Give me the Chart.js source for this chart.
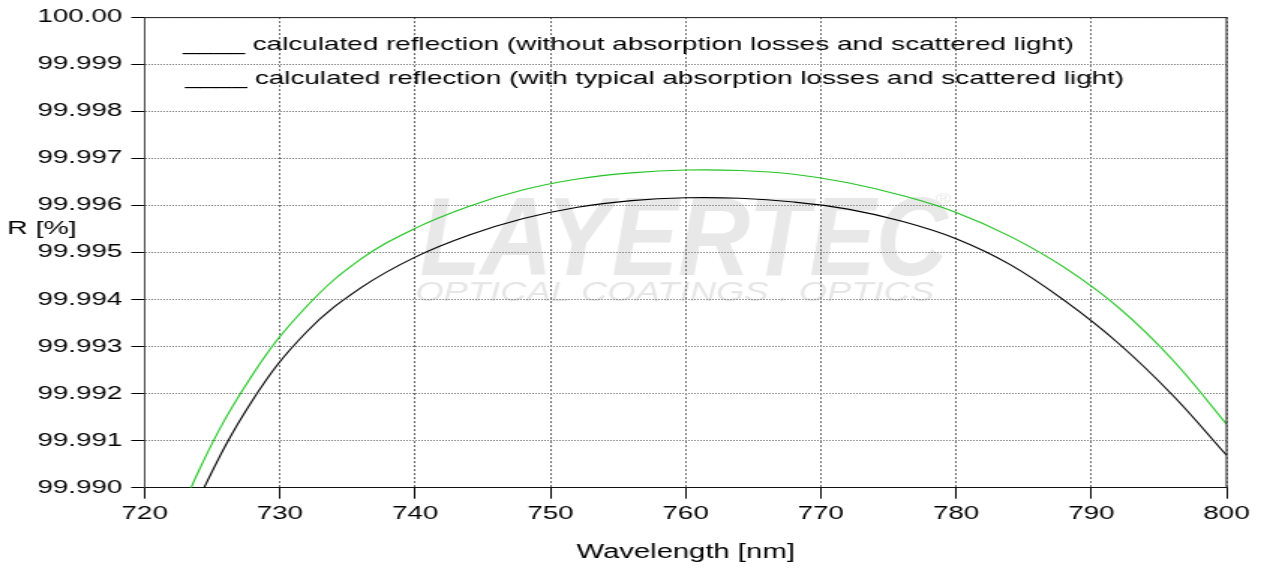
<!DOCTYPE html>
<html>
<head>
<meta charset="utf-8">
<script src="https://cdn.jsdelivr.net/npm/chart.js@4/dist/chart.umd.min.js"></script>
<style>
  html, body { margin: 0; padding: 0; background: #fff; overflow: hidden; }
  /* the reference picture is stretched sideways, so the whole canvas is too */
  #wrap { width: 843px; height: 570px; transform: scaleX(1.49941); transform-origin: 0 0; }
</style>
</head>
<body>
<div id="wrap"><canvas id="reflChart" width="843" height="570"></canvas></div>
<script>
// Wavelength grid (nm) and reflectance (R in %)
const wavelengths = [720, 724, 728, 732, 736, 740, 744, 748, 752, 756, 760,
                     764, 768, 772, 776, 780, 784, 788, 792, 796, 800];
// without absorption losses and scattered light (green)
const reflNoLoss = [99.98756, 99.99036, 99.99241, 99.99386, 99.99486, 99.99551, 99.99598, 99.99633, 99.99656, 99.99669, 99.99675,
                    99.99674, 99.99666, 99.99648, 99.99621, 99.99585, 99.99534, 99.99468, 99.99383, 99.99272, 99.99135];
// with typical absorption losses and scattered light (black)
const reflWithLoss = [99.98717, 99.98977, 99.99187, 99.99332, 99.99425, 99.99490, 99.99537, 99.99572, 99.99596, 99.99610, 99.99616,
                      99.99615, 99.99607, 99.99592, 99.99566, 99.99529, 99.99474, 99.99398, 99.99307, 99.99197, 99.99069];
const seriesLabels = [
  'calculated reflection (without absorption losses and scattered light)',
  'calculated reflection (with typical absorption losses and scattered light)'
];
const xTicks = [720, 730, 740, 750, 760, 770, 780, 790, 800];
const yMin = 99.990, yMax = 100.000, yStep = 0.001;

const FONT = "'Liberation Sans', Arial, sans-serif";

function toPoints(values) {
  return wavelengths.map((w, i) => ({ x: w, y: values[i] }));
}

// faint company watermark behind the grid
const watermarkPlugin = {
  id: 'watermark',
  beforeDraw(chart) {
    const ctx = chart.ctx;
    ctx.save();
    ctx.fillStyle = '#e8e8e8';
    ctx.textBaseline = 'alphabetic';
    ctx.textAlign = 'left';
    ctx.font = 'italic bold 112px ' + FONT;
    ctx.fillText('LAYERTEC', 280, 275, 352);
    ctx.font = '14px ' + FONT;
    ctx.fillText('\u00AE', 624, 204);
    ctx.font = 'italic 27px ' + FONT;
    ctx.fillStyle = '#e6e6e6';
    ctx.fillText('OPTICAL COATINGS . OPTICS', 277, 301, 346);
    ctx.restore();
  }
};

// frame, horizontal y title and the underscore legend
const framePlugin = {
  id: 'frame',
  afterDraw(chart) {
    const { ctx, chartArea: a } = chart;
    ctx.save();
    ctx.strokeStyle = '#222';
    ctx.lineWidth = 1;
    ctx.beginPath();
    ctx.moveTo(a.left, a.top + 0.5);
    ctx.lineTo(a.right, a.top + 0.5);
    ctx.moveTo(a.right, a.top);
    ctx.lineTo(a.right, a.bottom);
    ctx.stroke();

    ctx.fillStyle = '#000';
    ctx.textAlign = 'left';
    ctx.textBaseline = 'alphabetic';
    ctx.font = '19px ' + FONT;
    ctx.fillText('R [%]', 4.7, 234);

    ctx.font = '18.6px ' + FONT;
    ctx.fillText('____ ' + seriesLabels[0], 122, 50);
    ctx.fillText('____ ' + seriesLabels[1], 123.4, 84);
    ctx.restore();
  }
};

const ctx = document.getElementById('reflChart').getContext('2d');
new Chart(ctx, {
  type: 'line',
  data: {
    datasets: [
      {
        label: seriesLabels[0],
        data: toPoints(reflNoLoss),
        borderColor: '#22c422',
        borderWidth: 1.1,
        pointRadius: 0,
        tension: 0.4,
        fill: false
      },
      {
        label: seriesLabels[1],
        data: toPoints(reflWithLoss),
        borderColor: '#000',
        borderWidth: 1.1,
        pointRadius: 0,
        tension: 0.4,
        fill: false
      }
    ]
  },
  options: {
    responsive: false,
    animation: false,
    devicePixelRatio: 1,
    layout: { padding: { left: 0, right: 25, top: 15, bottom: 0 } },
    plugins: {
      legend: { display: false },
      tooltip: { enabled: false }
    },
    scales: {
      x: {
        type: 'linear',
        min: 720,
        max: 800,
        afterBuildTicks(scale) { scale.ticks = xTicks.map(v => ({ value: v })); },
        afterFit(scale) { scale.height = 82.3; },
        grid: { color: '#666', lineWidth: 1, tickLength: 11, tickColor: '#000', tickWidth: 1 },
        border: { display: true, color: '#111', width: 1, dash: [2, 2] },
        ticks: { color: '#000', padding: 4, maxRotation: 0, font: { family: FONT, size: 18.5 } },
        title: {
          display: true,
          text: 'Wavelength [nm]',
          color: '#000',
          font: { family: FONT, size: 19.5 },
          padding: { top: 0, bottom: 6 }
        }
      },
      y: {
        type: 'linear',
        min: yMin,
        max: yMax,
        afterBuildTicks(scale) {
          const ticks = [];
          for (let i = 0; i <= 10; i++) ticks.push({ value: yMin + i * yStep });
          scale.ticks = ticks;
        },
        afterFit(scale) { scale.width = 96.5; },
        grid: { color: '#777', lineWidth: 1, tickLength: 9, tickColor: '#000', tickWidth: 1 },
        border: { display: true, color: '#444', width: 1, dash: [1, 1] },
        ticks: {
          color: '#000',
          padding: 6,
          font: { family: FONT, size: 18.5 },
          callback(v) {
            const r = Math.round(v * 1000) / 1000;
            return r >= 100 ? r.toFixed(2) : r.toFixed(3);
          }
        }
      }
    }
  },
  plugins: [watermarkPlugin, framePlugin]
});
</script>
</body>
</html>
